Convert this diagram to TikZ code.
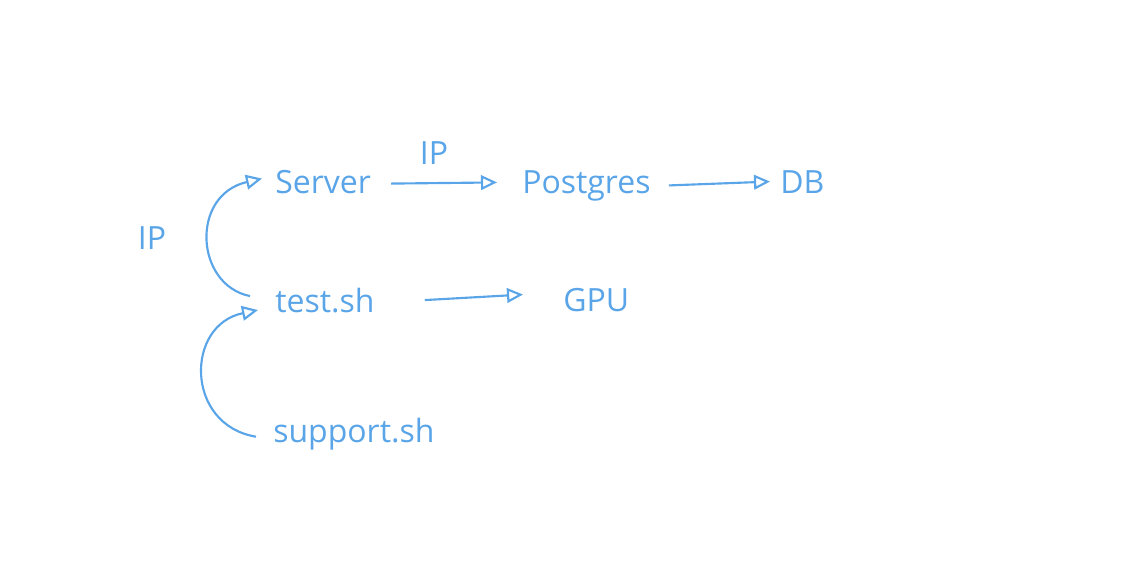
\documentclass[tikz,border=0pt]{standalone}
\usepackage{fontspec}
\setmainfont{Open Sans}
\usetikzlibrary{arrows.meta}
\definecolor{sk}{HTML}{5AA5E8}
\begin{document}
\begin{tikzpicture}[x=0.75pt,y=-0.75pt,
  lbl/.style={text=sk,font=\fontsize{24}{28}\selectfont,inner sep=0pt,anchor=base west},
  con/.style={draw=sk,line width=1.6pt,-{Triangle[open,length=12pt,width=11pt,line width=1.6pt]}}]
\useasboundingbox (0,0) rectangle (1143,587);
\node[lbl] (server) at (275,193) {Server};
\node[lbl] (pg) at (522,193) {Postgres};
\node[lbl] (db) at (780,193) {DB};
\node[lbl] (test) at (275,312) {test.sh};
\node[lbl] (gpu) at (563,311) {GPU};
\node[lbl] (sup) at (273,442) {support.sh};
\node[lbl,anchor=center] (ip1) at (152,238) {IP};
\node[lbl,anchor=center] (ip2) at (434,153) {IP};
\draw[con] ([shift={(20,2)}]server.east) -- ([shift={(-25,-3)}]pg.west);
\draw[con] ([shift={(18,0)}]pg.east) -- ([shift={(-10,0)}]db.west);
\draw[con] ([shift={(50,0)}]test.east) -- ([shift={(-40,-5)}]gpu.west);
\draw[con] ([shift={(-25,-4)}]test.west) .. controls (195,285) and (190,195) .. ([shift={(-13,-3)}]server.west);
\draw[con] ([shift={(-17,3)}]sup.west) .. controls (185,425) and (185,325) .. ([shift={(-17,10)}]test.west);
\end{tikzpicture}
\end{document}
